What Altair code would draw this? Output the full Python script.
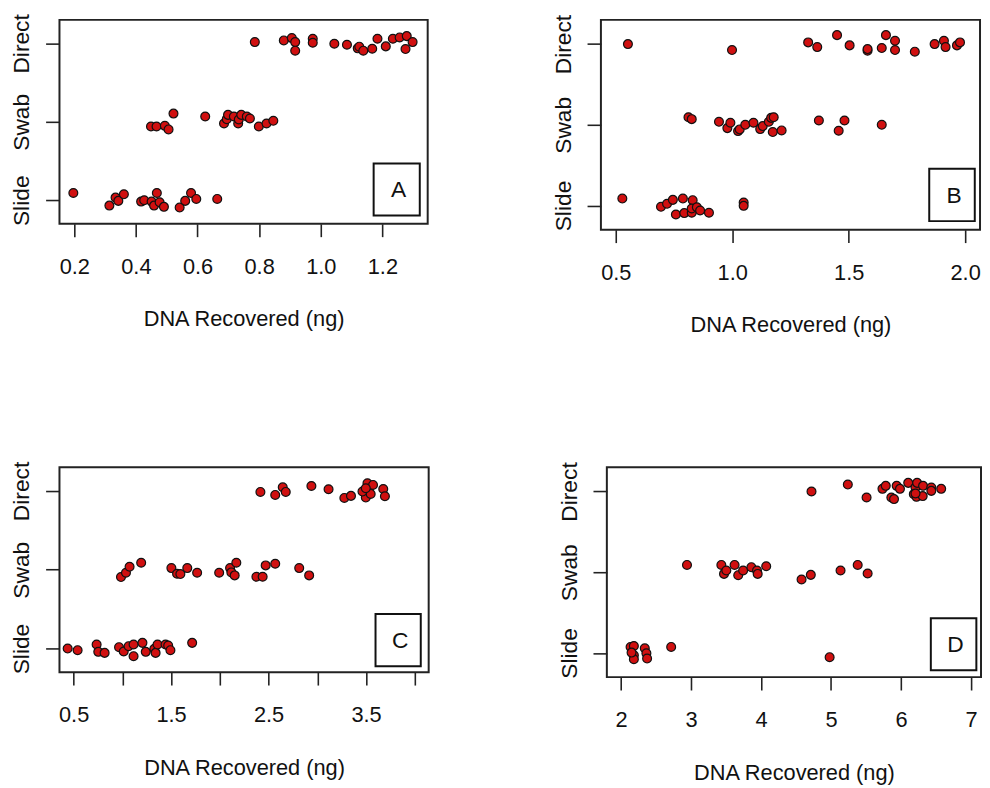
import altair as alt
import pandas as pd

FONT = "Liberation Sans"
RED = "#D01010"
INK = "#111111"

# ---------------- data ----------------
# group codes: Slide = 1, Swab = 2, Direct = 3 ; *_j = vertical jitter
a_direct_x = [0.786, 0.880, 0.906, 0.917, 0.917, 0.974, 0.974, 1.044, 1.085, 1.120, 1.125, 1.138, 1.167, 1.184, 1.211, 1.234, 1.256, 1.279, 1.275, 1.298]
a_direct_j = [0.017, 0.038, 0.068, 0.017, -0.093, 0.059, 0.008, -0.004, -0.017, -0.063, -0.042, -0.093, -0.068, 0.059, -0.038, 0.059, 0.076, 0.093, -0.072, 0.017]
a_swab_x = [0.449, 0.467, 0.494, 0.506, 0.522, 0.625, 0.686, 0.695, 0.699, 0.718, 0.732, 0.734, 0.742, 0.760, 0.770, 0.799, 0.824, 0.846]
a_swab_j = [-0.059, -0.059, -0.051, -0.097, 0.105, 0.068, -0.021, 0.034, 0.089, 0.068, -0.021, 0.030, 0.089, 0.068, 0.042, -0.059, -0.021, 0.013]
a_slide_x = [0.197, 0.314, 0.334, 0.343, 0.361, 0.417, 0.427, 0.451, 0.459, 0.468, 0.477, 0.491, 0.542, 0.560, 0.579, 0.596, 0.664]
a_slide_j = [0.093, -0.068, 0.034, -0.008, 0.076, -0.017, 0.0, -0.017, -0.068, 0.093, -0.025, -0.084, -0.093, -0.008, 0.093, 0.017, 0.017]

b_direct_x = [0.552, 0.999, 1.326, 1.365, 1.450, 1.504, 1.581, 1.581, 1.642, 1.660, 1.699, 1.699, 1.784, 1.869, 1.909, 1.916, 1.965, 1.978]
b_direct_j = [0.0, -0.074, 0.021, -0.037, 0.111, -0.016, -0.082, -0.062, -0.049, 0.111, 0.041, -0.074, -0.094, 0.0, 0.041, -0.037, -0.016, 0.021]
b_swab_x = [0.812, 0.826, 0.943, 0.979, 0.992, 1.025, 1.032, 1.056, 1.091, 1.120, 1.131, 1.157, 1.167, 1.178, 1.174, 1.212, 1.372, 1.457, 1.482, 1.642]
b_swab_j = [0.094, 0.070, 0.037, -0.041, 0.025, -0.078, -0.057, 0.0, 0.025, -0.053, -0.016, 0.037, 0.086, 0.094, -0.090, -0.070, 0.053, -0.074, 0.053, 0.0]
b_slide_x = [0.528, 0.694, 0.720, 0.745, 0.758, 0.788, 0.794, 0.826, 0.830, 0.826, 0.848, 0.862, 0.900, 1.049, 1.049]
b_slide_j = [0.086, -0.016, 0.021, 0.070, -0.111, 0.086, -0.094, -0.090, 0.066, -0.037, -0.021, -0.062, -0.090, 0.037, -0.004]

c_direct_x = [2.416, 2.568, 2.645, 2.676, 2.939, 3.115, 3.277, 3.345, 3.480, 3.497, 3.514, 3.530, 3.571, 3.547, 3.676, 3.693, 3.463, 3.497]
c_direct_j = [-0.013, -0.051, 0.046, -0.013, 0.063, 0.021, -0.089, -0.063, -0.008, -0.084, 0.097, -0.008, 0.076, -0.038, 0.025, -0.068, -0.008, 0.034]
c_swab_x = [0.986, 1.037, 1.074, 1.193, 1.503, 1.561, 1.595, 1.666, 1.767, 1.993, 2.105, 2.118, 2.152, 2.169, 2.375, 2.439, 2.470, 2.568, 2.814, 2.916]
c_swab_j = [-0.093, -0.038, 0.038, 0.089, 0.021, -0.051, -0.055, 0.021, -0.038, -0.038, 0.021, -0.034, -0.072, 0.089, -0.089, -0.089, 0.055, 0.076, 0.021, -0.072]
c_slide_x = [0.439, 0.541, 0.736, 0.753, 0.818, 0.966, 1.014, 1.064, 1.115, 1.115, 1.206, 1.240, 1.328, 1.341, 1.361, 1.443, 1.470, 1.493, 1.716]
c_slide_j = [0.0, -0.021, 0.051, -0.042, -0.055, 0.017, -0.038, 0.030, 0.051, -0.097, 0.072, -0.042, -0.004, -0.055, 0.051, 0.051, 0.038, -0.021, 0.072]

d_direct_x = [4.722, 5.241, 5.509, 5.736, 5.783, 5.863, 5.901, 5.939, 5.986, 6.104, 6.208, 6.231, 6.184, 6.222, 6.316, 6.311, 6.434, 6.434, 6.575, 6.208]
d_direct_j = [0.0, 0.086, -0.074, 0.033, 0.070, -0.074, -0.094, 0.070, 0.033, 0.107, 0.049, 0.107, -0.033, -0.066, 0.070, -0.057, 0.049, 0.008, 0.033, -0.025]
d_swab_x = [2.943, 3.434, 3.472, 3.505, 3.623, 3.675, 3.745, 3.863, 3.943, 3.953, 4.075, 4.580, 4.712, 5.137, 5.382, 5.524]
d_swab_j = [0.090, 0.090, -0.021, 0.021, 0.090, -0.037, 0.021, 0.062, 0.021, -0.021, 0.074, -0.090, -0.033, 0.021, 0.090, -0.016]
d_slide_x = [2.137, 2.184, 2.184, 2.184, 2.340, 2.363, 2.373, 2.717, 4.981, 2.151]
d_slide_j = [0.074, 0.086, -0.029, -0.078, 0.057, -0.004, -0.070, 0.074, -0.053, 0.004]

group_codes = {"Slide": 1, "Swab": 2, "Direct": 3}
x_title = "DNA Recovered (ng)"

a_ticks = [0.2, 0.4, 0.6, 0.8, 1.0, 1.2]
b_ticks = [0.5, 1.0, 1.5, 2.0]
c_ticks = [0.5, 1.0, 1.5, 2.0, 2.5, 3.0, 3.5, 4.0]
d_ticks = [2, 3, 4, 5, 6, 7]


def frame(sets):
    rows = []
    for name, xs, js in sets:
        for x, j in zip(xs, js):
            rows.append({"group": name, "x": x, "y": group_codes[name] + j})
    return pd.DataFrame(rows)


def panel(df, letter, xdom, ticks, fmt, label_expr, w, h, box):
    x_axis = dict(values=ticks, format=fmt, title=x_title, tickSize=13,
                  labelPadding=37, labelBaseline="alphabetic", labelFontSize=22,
                  labelFlush=False, labelOverlap=False, titleFontSize=22,
                  titleBaseline="alphabetic", titlePadding=43, minExtent=60, maxExtent=60)
    if label_expr:
        x_axis["labelExpr"] = label_expr
    pts = alt.Chart(df).mark_circle(size=80, color=RED, stroke=INK, strokeWidth=1.2, opacity=1).encode(
        x=alt.X("x:Q", scale=alt.Scale(domain=xdom, nice=False, zero=False), axis=alt.Axis(**x_axis)),
        y=alt.Y("y:Q", scale=alt.Scale(domain=[0.7, 3.3], nice=False, zero=False),
                axis=alt.Axis(values=[1, 2, 3], title=None, tickSize=14,
                              labelExpr="datum.value == 1 ? 'Slide' : datum.value == 2 ? 'Swab' : 'Direct'",
                              labelAngle=-90, labelAlign="center", labelBaseline="alphabetic",
                              labelPadding=17, labelFontSize=23, labelFlush=False, labelOverlap=False)),
    )
    lab = pd.DataFrame({"letter": [letter]})
    x0, y0, x1, y1 = box
    rect = alt.Chart(lab).mark_rect(fill="white", stroke=INK, strokeWidth=2).encode(
        x=alt.value(x0), x2=alt.value(x1), y=alt.value(y0), y2=alt.value(y1))
    txt = alt.Chart(lab).mark_text(font=FONT, fontSize=23, color=INK, align="center", baseline="middle").encode(
        x=alt.value((x0 + x1) / 2 + 2), y=alt.value((y0 + y1) / 2 + 1), text="letter:N")
    return alt.layer(pts, rect, txt).properties(width=w, height=h)


pa = panel(frame([("Direct", a_direct_x, a_direct_j), ("Swab", a_swab_x, a_swab_j), ("Slide", a_slide_x, a_slide_j)]),
           "A", [0.152, 1.347], a_ticks, ".1f", None, 372, 206, (317.4, 145, 364, 197.6))
pb = panel(frame([("Direct", b_direct_x, b_direct_j), ("Swab", b_swab_x, b_swab_j), ("Slide", b_slide_x, b_slide_j)]),
           "B", [0.436, 2.064], b_ticks, ".1f", None, 383, 212, (331.7, 150.3, 377.7, 203.3))
pc = panel(frame([("Direct", c_direct_x, c_direct_j), ("Swab", c_swab_x, c_swab_j), ("Slide", c_slide_x, c_slide_j)]),
           "C", [0.355, 4.142], c_ticks, ".1f",
           "(datum.value * 2) % 2 == 1 ? format(datum.value, '.1f') : ''", 373, 207, (319.3, 148.3, 365, 201))
pd_ = panel(frame([("Direct", d_direct_x, d_direct_j), ("Swab", d_swab_x, d_swab_j), ("Slide", d_slide_x, d_slide_j)]),
            "D", [1.798, 7.144], d_ticks, "d", None, 378, 212, (327.3, 152.4, 373.3, 205))

row1 = alt.hconcat(pa, pb, spacing=123)
row2 = alt.hconcat(pc, pd_, spacing=128)

chart = alt.vconcat(row1, row2, spacing=124).properties(
    padding={"left": 1, "top": 0, "right": 0, "bottom": 0},
    background="white",
).configure_axis(
    domain=False, grid=False, labelFont=FONT, titleFont=FONT, labelColor=INK, titleColor=INK,
    titleFontWeight="normal", tickColor="#222222", tickWidth=1.6,
).configure_view(stroke="#222222", strokeWidth=2)

chart.save("out.html", embed_options={"renderer": "svg", "actions": False})
